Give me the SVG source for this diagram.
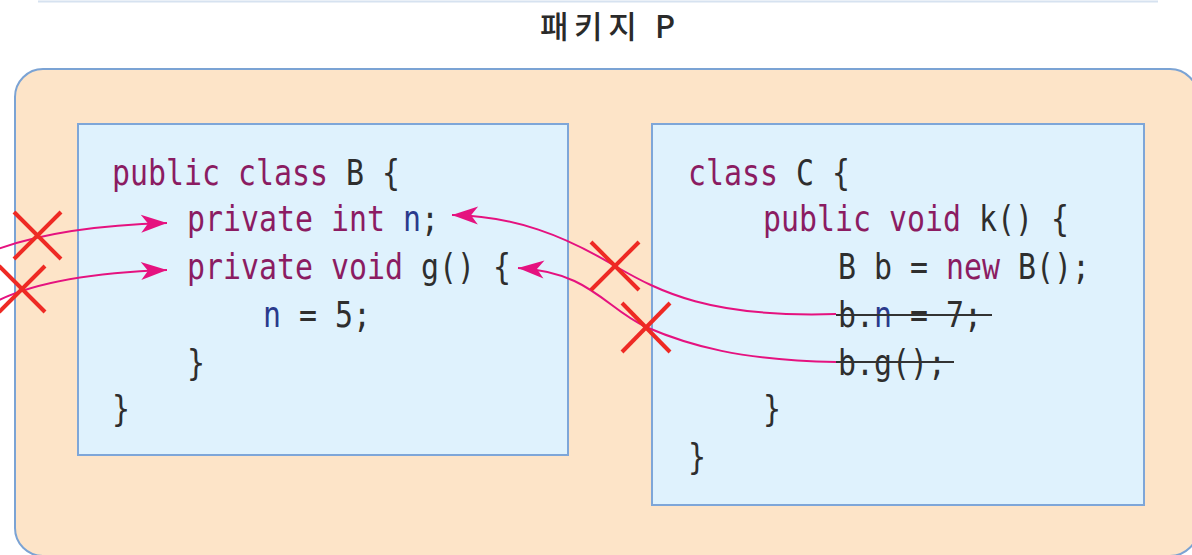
<svg xmlns="http://www.w3.org/2000/svg" width="1192" height="555" viewBox="0 0 1192 555">
  <style>
    .box { fill: #DFF2FD; stroke: #7EA6D8; stroke-width: 2; }
    .code { font-family: "DejaVu Sans Mono", "Liberation Mono", monospace; font-size: 35px; fill: #2E2E2E; }
    .kw { fill: #8B1C62; }
    .var { fill: #2A3A8C; }
    .strike { stroke: #333333; stroke-width: 2; }
    .conn { fill: none; stroke: #E5127F; stroke-width: 2; }
    .cross { stroke: #EE2A24; stroke-width: 4; stroke-linecap: butt; }
  </style>
  <defs>
    <marker id="arrow" viewBox="-28 -14 30 28" refX="0" refY="0" markerWidth="30" markerHeight="28" markerUnits="userSpaceOnUse" orient="auto">
      <path d="M0,0 L-26,-9 L-19,0 L-26,9 Z" fill="#E5127F"/>
    </marker>
  </defs>

  <line x1="38" y1="1.5" x2="1158" y2="1.5" stroke="#D6E2F0" stroke-width="2"/>

  <g id="package">
    <rect x="15" y="69" width="1183" height="487" rx="28" ry="28" fill="#FDE4C8" stroke="#7BA3D4" stroke-width="2"/>
    <text x="540" y="38" textLength="135" lengthAdjust="spacing" font-family="'Noto Sans CJK KR', sans-serif" font-size="31" font-weight="500" fill="#2A2A2A">패키지 P</text>
  </g>

  <g id="classB">
    <rect class="box" x="78" y="124" width="490" height="331"/>
    <g transform="scale(0.8543 1)">
      <text class="code kw" x="131.1" y="185">public class</text>
      <text class="code" x="405.0" y="185">B {</text>
      <text class="code kw" x="218.9" y="231">private int</text>
      <text class="code var" x="471.7" y="231">n</text>
      <text class="code" x="492.8" y="231">;</text>
      <text class="code kw" x="218.9" y="279">private void</text>
      <text class="code" x="492.8" y="279">g() {</text>
      <text class="code var" x="307.9" y="327">n</text>
      <text class="code" x="350.0" y="327">= 5;</text>
      <text class="code" x="218.9" y="375">}</text>
      <text class="code" x="131.1" y="421">}</text>
    </g>
  </g>

  <g id="classC">
    <rect class="box" x="652" y="124" width="492" height="381"/>
    <g transform="scale(0.8543 1)">
      <text class="code kw" x="805.3" y="185">class</text>
      <text class="code" x="931.8" y="185">C {</text>
      <text class="code kw" x="893.1" y="231">public void</text>
      <text class="code" x="1146.0" y="231">k() {</text>
      <text class="code" x="980.9" y="279">B b =</text>
      <text class="code kw" x="1107.3" y="279">new</text>
      <text class="code" x="1191.6" y="279">B();</text>
      <text class="code" x="980.9" y="327">b.</text>
      <text class="code var" x="1023.1" y="327">n</text>
      <text class="code" x="1065.2" y="327">= 7;</text>
      <text class="code" x="980.9" y="375">b.g();</text>
      <text class="code" x="893.1" y="421">}</text>
      <text class="code" x="805.3" y="469">}</text>
    </g>
    <line class="strike" x1="836" y1="315" x2="992" y2="315"/>
    <line class="strike" x1="836" y1="362" x2="954" y2="362"/>
  </g>

  <g id="connectors">
    <path class="conn" d="M -5 250 Q 60 226 167 223" marker-end="url(#arrow)"/>
    <path class="conn" d="M -5 302 Q 50 274 167 270" marker-end="url(#arrow)"/>
    <path class="conn" d="M 836 314 C 710 318 660 292 615 266 C 565 236 515 216 452 215" marker-end="url(#arrow)"/>
    <path class="conn" d="M 836 362 C 740 360 690 346 646 327 C 605 308 590 272 518 268" marker-end="url(#arrow)"/>
  </g>

  <g id="crosses">
    <line class="cross" x1="14" y1="212" x2="61" y2="259"/>
    <line class="cross" x1="61" y1="212" x2="14" y2="259"/>
    <line class="cross" x1="-1" y1="266" x2="45" y2="312"/>
    <line class="cross" x1="45" y1="266" x2="-1" y2="312"/>
    <line class="cross" x1="591" y1="242" x2="639" y2="290"/>
    <line class="cross" x1="639" y1="242" x2="591" y2="290"/>
    <line class="cross" x1="622" y1="303" x2="670" y2="352"/>
    <line class="cross" x1="670" y1="303" x2="622" y2="352"/>
  </g>
</svg>
